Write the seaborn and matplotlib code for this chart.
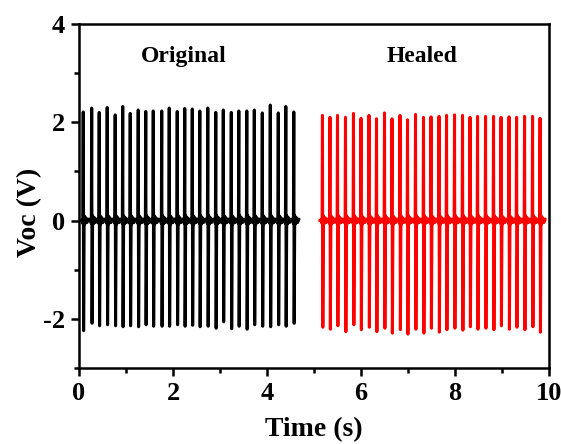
import matplotlib
matplotlib.use("Agg")
import matplotlib.pyplot as plt
from matplotlib.ticker import MultipleLocator
import seaborn as sns
import pandas as pd

# ---- data ----
orig_times = [0.09, 0.27, 0.43, 0.60, 0.77, 0.93, 1.09, 1.26, 1.42, 1.58, 1.76, 1.92, 2.09, 2.25,
              2.41, 2.57, 2.74, 2.91, 3.07, 3.24, 3.40, 3.57, 3.73, 3.90, 4.07, 4.24, 4.40, 4.57]
orig_pos = [2.21, 2.29, 2.20, 2.30, 2.15, 2.32, 2.18, 2.25, 2.22, 2.23, 2.23, 2.29, 2.22, 2.28,
            2.27, 2.23, 2.29, 2.20, 2.25, 2.20, 2.23, 2.23, 2.25, 2.19, 2.35, 2.19, 2.32, 2.21]
orig_neg = [-2.24, -2.09, -2.14, -2.12, -2.14, -2.16, -2.14, -2.16, -2.12, -2.15, -2.15, -2.15, -2.12, -2.15,
            -2.13, -2.16, -2.15, -2.19, -2.06, -2.20, -2.15, -2.21, -2.12, -2.15, -2.16, -2.12, -2.15, -2.09]
orig_span = [0.03, 4.65]

heal_times = [5.18, 5.34, 5.50, 5.67, 5.84, 6.00, 6.17, 6.33, 6.50, 6.66, 6.83, 6.99, 7.16, 7.33, 7.49,
              7.66, 7.82, 7.99, 8.16, 8.32, 8.48, 8.65, 8.82, 8.98, 9.15, 9.31, 9.48, 9.65, 9.81]
heal_pos = [2.14, 2.10, 2.14, 2.10, 2.18, 2.08, 2.14, 2.07, 2.19, 2.07, 2.14, 2.05, 2.16, 2.10, 2.11,
            2.12, 2.14, 2.15, 2.14, 2.10, 2.12, 2.12, 2.12, 2.10, 2.11, 2.10, 2.12, 2.12, 2.08]
heal_neg = [-2.17, -2.21, -2.14, -2.26, -2.12, -2.22, -2.17, -2.26, -2.19, -2.29, -2.22, -2.31, -2.21, -2.29, -2.19,
            -2.27, -2.22, -2.19, -2.23, -2.16, -2.21, -2.19, -2.22, -2.14, -2.21, -2.17, -2.22, -2.16, -2.27]
heal_span = [5.12, 9.90]

# small ringing after each pulse (offset s, value V)
ring_dt = [0.02, 0.035, 0.055, 0.08, 0.11]
ring_v = [0.10, -0.07, 0.06, -0.04, 0.03]

labels = ["Original", "Healed"]
colors = ["#000000", "#ff0000"]


def build(times, pos, neg, span, name):
    t, v = [span[0]], [0.0]
    for ti, p, n in zip(times, pos, neg):
        t += [ti - 0.03, ti - 0.008, ti, ti + 0.008]
        v += [0.02, -0.06, p, n]
        for dt, rv in zip(ring_dt, ring_v):
            t.append(ti + dt)
            v.append(rv)
    t.append(span[1]); v.append(0.0)
    return pd.DataFrame({"time": t, "voc": v, "state": name})


df = pd.concat([build(orig_times, orig_pos, orig_neg, orig_span, labels[0]),
                build(heal_times, heal_pos, heal_neg, heal_span, labels[1])],
               ignore_index=True)

sns.set_theme(style="white")
plt.rcParams["font.family"] = ["Liberation Serif", "DejaVu Serif"]
plt.rcParams["font.weight"] = "bold"
plt.rcParams["axes.unicode_minus"] = False
plt.rcParams["text.color"] = "black"
plt.rcParams["axes.labelcolor"] = "black"
plt.rcParams["xtick.color"] = "black"
plt.rcParams["ytick.color"] = "black"

fig = plt.figure(figsize=(5.61, 4.44), dpi=100)
ax = fig.add_axes([79 / 561, 1 - 368 / 444, 470 / 561, 344 / 444])

sns.lineplot(data=df, x="time", y="voc", hue="state", palette=colors,
             units="state", estimator=None, sort=False, linewidth=2.2,
             legend=False, ax=ax)

ax.set_xlim(0, 10)
ax.set_ylim(-3, 4)
ax.xaxis.set_major_locator(MultipleLocator(2))
ax.xaxis.set_minor_locator(MultipleLocator(1))
ax.yaxis.set_major_locator(MultipleLocator(2))
ax.yaxis.set_minor_locator(MultipleLocator(1))
ax.tick_params(which="both", direction="out", width=1.8, colors="black",
               bottom=True, left=True, top=False, right=False)
ax.tick_params(which="major", length=6, labelsize=19, pad=4)
ax.tick_params(which="minor", length=3.5)
for lab in ax.get_xticklabels() + ax.get_yticklabels():
    lab.set_fontweight("bold")
for s in ax.spines.values():
    s.set_linewidth(1.8)
    s.set_color("black")

ax.set_xlabel("Time (s)", fontsize=20, fontweight="bold", labelpad=9, color="black")
ax.set_ylabel("Voc (V)", fontsize=20, fontweight="bold", color="black")
ax.yaxis.set_label_coords(-0.078, 0.453)

ax.text(2.23, 3.22, labels[0], ha="center", va="baseline", fontsize=17,
        fontweight="bold", color="black")
ax.text(7.3, 3.22, labels[1], ha="center", va="baseline", fontsize=17,
        fontweight="bold", color="black")

fig.savefig("out.png", dpi=100, facecolor="white")
